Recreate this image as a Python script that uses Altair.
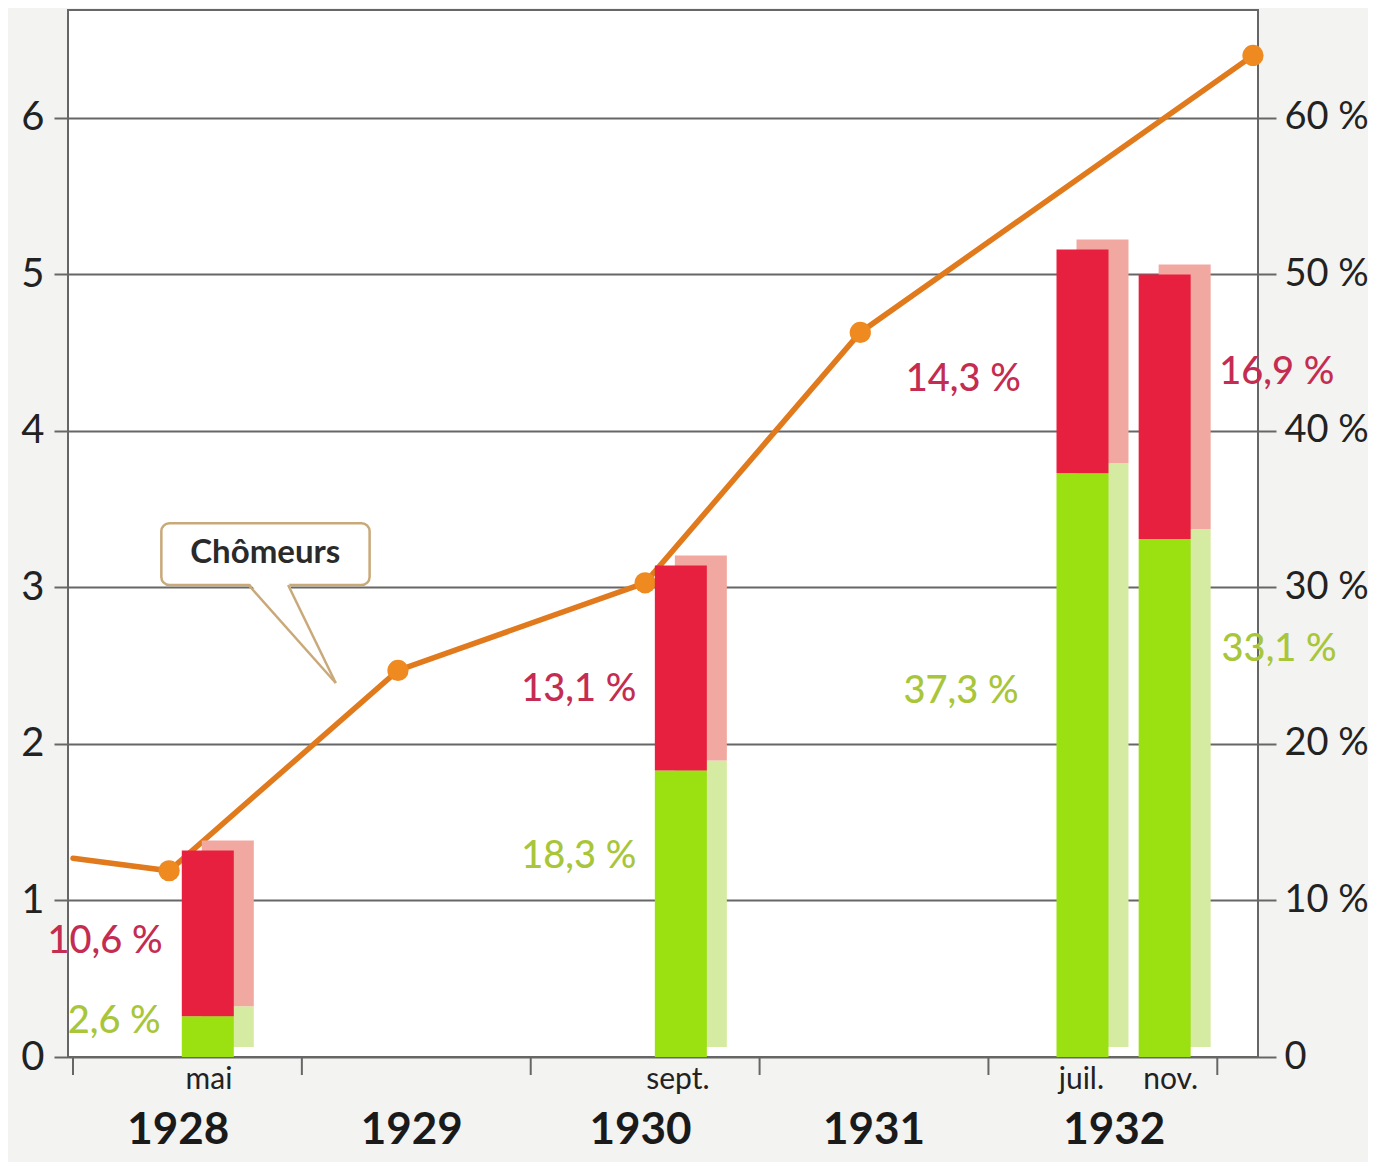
import altair as alt
import pandas as pd

# ---- data ----
line_t = [1928.0, 1928.42, 1929.42, 1930.50, 1931.44, 1933.156]
chomeurs = [1.27, 1.19, 2.47, 3.03, 4.63, 6.40]
has_marker = [False, True, True, True, True, True]

bar_x = [1928.589, 1930.656, 1932.411, 1932.770]
green_pct = [2.6, 18.3, 37.3, 33.1]
red_pct = [10.6, 13.1, 14.3, 16.9]

pct_text = ["10,6 %", "2,6 %", "13,1 %", "18,3 %", "14,3 %", "37,3 %", "16,9 %", "33,1 %"]
pct_x = [1928.14, 1928.18, 1930.21, 1930.21, 1931.89, 1931.88, 1933.26, 1933.27]
pct_y = [7.35, 2.24, 23.45, 12.78, 43.26, 23.3, 43.7, 26.0]
pct_kind = ["r", "g", "r", "g", "r", "g", "r", "g"]

year_text = ["1928", "1929", "1930", "1931", "1932"]
year_x = [1928.46, 1929.48, 1930.48, 1931.50, 1932.55]
month_text = ["mai", "sept.", "juil.", "nov."]
month_x = [1928.594, 1930.643, 1932.406, 1932.796]

callout_text = ["Chômeurs"]
callout_box = {"x1": [1928.386], "x2": [1929.296], "y1": [3.41], "y2": [3.016]}
callout_label_pos = {"x": [1928.84], "y": [3.22]}
pointer_area = {"y": [3.035, 2.39], "xa": [1928.767, 1929.148], "xb": [1928.94, 1929.148]}
pointer_sides = {"seg": ["a", "a", "b", "b"],
                 "x": [1928.767, 1929.148, 1928.94, 1929.148],
                 "y": [3.016, 2.39, 3.016, 2.39]}

left_ticks = [0, 1, 2, 3, 4, 5, 6]
year_ticks = [1928, 1929, 1930, 1931, 1932, 1933]

# ---- styles ----
FONT = "Lato"
ORANGE = "#E07A1C"
ORANGE_PT = "#EE8A20"
RED = "#E8203F"
RED_SIDE = "#F1A8A0"
GREEN = "#9BE010"
GREEN_SIDE = "#D6EBA2"
RED_TXT = "#C42C52"
GREEN_TXT = "#A9C63A"
GRID = "#666666"
TAN = "#C9A97A"

W, H = 1190, 1047
XS = alt.Scale(domain=[1928, 1933.156], nice=False, zero=False)
YS = alt.Scale(domain=[0, 6.69], nice=False, zero=True)

left_axis = alt.Axis(values=left_ticks, orient="left", title=None, grid=True, gridColor=GRID,
                     gridWidth=2, tickSize=14, tickColor=GRID, tickWidth=2, domain=False,
                     labelFont=FONT, labelFontSize=40, labelColor="#222", labelPadding=10)
right_axis = alt.Axis(values=left_ticks, orient="right", title=None, grid=False,
                      tickSize=18, tickColor=GRID, tickWidth=2, domain=False,
                      labelFont=FONT, labelFontSize=38, labelColor="#222", labelPadding=8,
                      labelExpr="datum.value == 0 ? '0' : (datum.value * 10) + ' %'")

# ---- frames ----
line_df = pd.DataFrame({"t": line_t, "v": chomeurs, "m": has_marker})

rows = []
for i, x in enumerate(bar_x):
    g, r = green_pct[i], red_pct[i]
    rows.append({"x": x, "p0": 0, "p1": g, "fc": GREEN, "bc": GREEN_SIDE})
    rows.append({"x": x, "p0": g, "p1": g + r, "fc": RED, "bc": RED_SIDE})
bars_df = pd.DataFrame(rows)

pct_df = pd.DataFrame({"t": pct_text, "x": pct_x, "p": pct_y,
                       "c": [RED_TXT if k == "r" else GREEN_TXT for k in pct_kind]})
year_df = pd.DataFrame({"t": year_text, "x": year_x})
month_df = pd.DataFrame({"t": month_text, "x": month_x})
tick_df = pd.DataFrame({"t": year_ticks})

# ---- layers (percent values are drawn on the same scale: 10 % = 1 unit) ----
xticks = alt.Chart(tick_df).mark_rule(color=GRID, strokeWidth=2).encode(
    x=alt.X("t:Q", scale=XS, axis=None),
    y=alt.value(H), y2=alt.value(H + 18),
)
line = alt.Chart(line_df).mark_line(color=ORANGE, strokeWidth=5.5, strokeCap="round").encode(
    x=alt.X("t:Q", scale=XS, axis=None),
    y=alt.Y("v:Q", scale=YS, axis=left_axis),
)
points = alt.Chart(line_df).transform_filter("datum.m").mark_circle(
    size=450, color=ORANGE_PT, opacity=1).encode(
    x=alt.X("t:Q", scale=XS, axis=None),
    y=alt.Y("v:Q", scale=YS, axis=None),
)
bars_back = alt.Chart(bars_df).transform_calculate(
    y0="datum.p0 / 10", y1="datum.p1 / 10").mark_bar(
    size=52, xOffset=20, yOffset=-10, y2Offset=-10, orient="vertical").encode(
    x=alt.X("x:Q", scale=XS, axis=None),
    y=alt.Y("y0:Q", scale=YS, axis=None), y2="y1:Q",
    color=alt.Color("bc:N", scale=None),
)
bars_front = alt.Chart(bars_df).transform_calculate(
    y0="datum.p0 / 10", y1="datum.p1 / 10").mark_bar(size=52, orient="vertical").encode(
    x=alt.X("x:Q", scale=XS, axis=None),
    y=alt.Y("y0:Q", scale=YS, axis=right_axis), y2="y1:Q",
    color=alt.Color("fc:N", scale=None),
)
pct_lbl = alt.Chart(pct_df).transform_calculate(y="datum.p / 10").mark_text(
    font=FONT, fontSize=38, fontWeight=500, baseline="middle").encode(
    x=alt.X("x:Q", scale=XS, axis=None),
    y=alt.Y("y:Q", scale=YS, axis=None),
    text="t:N",
    color=alt.Color("c:N", scale=None),
)
box = alt.Chart(pd.DataFrame(callout_box)).mark_rect(
    fill="white", stroke=TAN, strokeWidth=2.5, cornerRadius=8).encode(
    x=alt.X("x1:Q", scale=XS, axis=None), x2="x2:Q",
    y=alt.Y("y1:Q", scale=YS, axis=None), y2="y2:Q",
)
ptr_fill = alt.Chart(pd.DataFrame(pointer_area)).mark_area(
    orient="horizontal", fill="white", opacity=1).encode(
    y=alt.Y("y:Q", scale=YS, axis=None),
    x=alt.X("xa:Q", scale=XS, axis=None), x2="xb:Q",
)
ptr_sides = alt.Chart(pd.DataFrame(pointer_sides)).mark_line(
    color=TAN, strokeWidth=2.5).encode(
    x=alt.X("x:Q", scale=XS, axis=None),
    y=alt.Y("y:Q", scale=YS, axis=None),
    detail="seg:N",
)
callout_lbl = alt.Chart(pd.DataFrame({**callout_label_pos, "t": callout_text})).mark_text(
    font=FONT, fontSize=33, fontWeight="bold", color="#2a2a2a", baseline="middle").encode(
    x=alt.X("x:Q", scale=XS, axis=None),
    y=alt.Y("y:Q", scale=YS, axis=None),
    text="t:N",
)
years = alt.Chart(year_df).mark_text(
    font=FONT, fontSize=44, fontWeight="bold", color="#1a1a1a", baseline="middle").encode(
    x=alt.X("x:Q", scale=XS, axis=None), y=alt.value(1121), text="t:N")
months = alt.Chart(month_df).mark_text(
    font=FONT, fontSize=30, color="#222", baseline="middle").encode(
    x=alt.X("x:Q", scale=XS, axis=None), y=alt.value(1070), text="t:N")

chart = alt.layer(
    xticks, line, points, bars_back, bars_front, pct_lbl,
    box, ptr_fill, ptr_sides, callout_lbl, years, months,
).resolve_axis(y="independent").properties(
    width=W, height=H,
    autosize=alt.AutoSizeParams(type="none"),
    padding={"left": 60, "top": 2, "right": 110, "bottom": 105},
    background="#f3f3f1",
).configure_view(stroke=GRID, strokeWidth=2, fill="white")

chart.save("out.html", embed_options={"renderer": "svg", "actions": False})
